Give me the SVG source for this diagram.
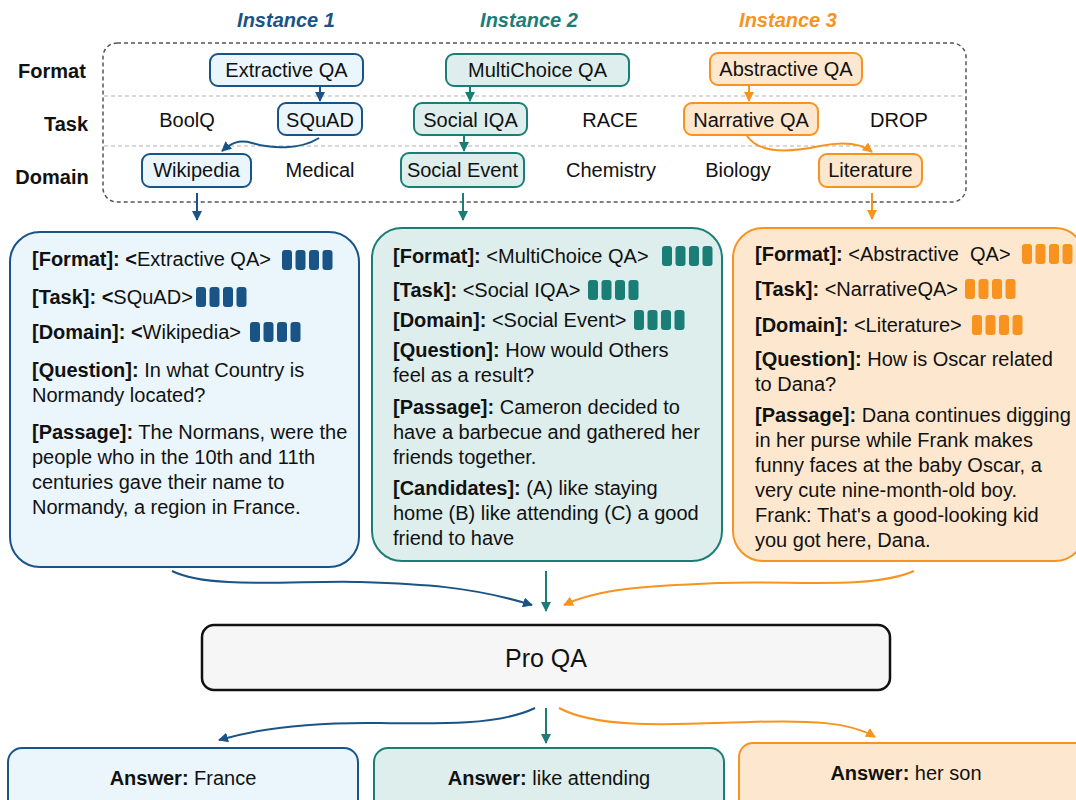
<svg xmlns="http://www.w3.org/2000/svg" width="1076" height="800" viewBox="0 0 1076 800">
<defs>
<style>
text{font-family:"Liberation Sans",Arial,Helvetica,sans-serif;font-size:20px;fill:#111}
.b{font-weight:bold}
.hd{font-weight:bold;font-style:italic}
.c{text-anchor:middle}
.nb{fill:#eaf6fc;stroke:#1a5486;stroke-width:2}
.nt{fill:#ddeeed;stroke:#1b7e76;stroke-width:2}
.no{fill:#fde8cf;stroke:#f7931e;stroke-width:2}
.barB{fill:#1a5486}
.barT{fill:#1b7e76}
.barO{fill:#f7931e}
.eb{fill:none;stroke:#1a5486;stroke-width:2}
.et{fill:none;stroke:#1b7e76;stroke-width:2}
.eo{fill:none;stroke:#f7931e;stroke-width:2}
</style>
<marker id="aB" viewBox="0 0 10 10" refX="9" refY="5" markerWidth="5" markerHeight="5" orient="auto"><path d="M0,0 L10,5 L0,10 z" fill="#1a5486"/></marker>
<marker id="aT" viewBox="0 0 10 10" refX="9" refY="5" markerWidth="5" markerHeight="5" orient="auto"><path d="M0,0 L10,5 L0,10 z" fill="#1b7e76"/></marker>
<marker id="aO" viewBox="0 0 10 10" refX="9" refY="5" markerWidth="5" markerHeight="5" orient="auto"><path d="M0,0 L10,5 L0,10 z" fill="#f7931e"/></marker>
<g id="bars">
<rect x="0" y="0" width="10" height="20" rx="3"/>
<rect x="13.5" y="0" width="10" height="20" rx="3"/>
<rect x="27" y="0" width="10" height="20" rx="3"/>
<rect x="40.5" y="0" width="10" height="20" rx="3"/>
</g>
</defs>
<rect width="1076" height="800" fill="#fff"/>

<!-- headers -->
<g id="headers">
<text class="hd c" x="286" y="27" style="fill:#1a5486">Instance 1</text>
<text class="hd c" x="529" y="27" style="fill:#1b7e76">Instance 2</text>
<text class="hd c" x="788" y="27" style="fill:#f7931e">Instance 3</text>
<text class="b c" x="52" y="78">Format</text>
<text class="b c" x="66" y="131">Task</text>
<text class="b c" x="52" y="184">Domain</text>
</g>

<!-- hierarchy frame -->
<g id="frame">
<rect x="103" y="43" width="863" height="159" rx="14" fill="none" stroke="#555" stroke-width="1.5" stroke-dasharray="4 3"/>
<line x1="104" y1="96" x2="965" y2="96" stroke="#ccc" stroke-width="1.5" stroke-dasharray="4 3"/>
<line x1="104" y1="146" x2="965" y2="146" stroke="#ccc" stroke-width="1.5" stroke-dasharray="4 3"/>
</g>

<g id="n-extractive"><rect class="nb" x="210" y="54" width="153" height="32" rx="8"/><text class="c" x="286.5" y="77">Extractive QA</text></g>
<g id="n-multichoice"><rect class="nt" x="446" y="54" width="183" height="32" rx="8"/><text class="c" x="537.5" y="77">MultiChoice QA</text></g>
<g id="n-abstractive"><rect class="no" x="710" y="53" width="152" height="32" rx="8"/><text class="c" x="786" y="76">Abstractive QA</text></g>

<g id="n-boolq"><text class="c" x="187" y="127">BoolQ</text></g>
<g id="n-squad"><rect class="nb" x="278" y="103" width="84" height="32" rx="8"/><text class="c" x="320" y="127">SQuAD</text></g>
<g id="n-socialiqa"><rect class="nt" x="414" y="103" width="113" height="32" rx="8"/><text class="c" x="470.5" y="127">Social IQA</text></g>
<g id="n-race"><text class="c" x="610" y="127">RACE</text></g>
<g id="n-narrative"><rect class="no" x="684" y="103" width="134" height="32" rx="8"/><text class="c" x="751" y="127">Narrative QA</text></g>
<g id="n-drop"><text class="c" x="899" y="127">DROP</text></g>

<g id="n-wikipedia"><rect class="nb" x="142" y="154" width="109" height="33" rx="8"/><text class="c" x="196.5" y="177">Wikipedia</text></g>
<g id="n-medical"><text class="c" x="320" y="177">Medical</text></g>
<g id="n-socialevent"><rect class="nt" x="401" y="153" width="123" height="34" rx="8"/><text class="c" x="462.5" y="177">Social Event</text></g>
<g id="n-chemistry"><text class="c" x="611" y="177">Chemistry</text></g>
<g id="n-biology"><text class="c" x="738" y="177">Biology</text></g>
<g id="n-literature"><rect class="no" x="819" y="154" width="103" height="33" rx="8"/><text class="c" x="870.5" y="177">Literature</text></g>

<!-- instance cards -->
<g id="card1">
<rect class="nb" x="10" y="232" width="349" height="335" rx="30"/>
<text x="32" y="266"><tspan class="b">[Format]: &lt;</tspan>Extractive QA&gt;</text>
<use href="#bars" x="282" y="250" class="barB"/>
<text x="32" y="304"><tspan class="b">[Task]: &lt;</tspan>SQuAD&gt;</text>
<use href="#bars" x="196" y="287" class="barB"/>
<text x="32" y="339"><tspan class="b">[Domain]: &lt;</tspan>Wikipedia&gt;</text>
<use href="#bars" x="250" y="322" class="barB"/>
<text x="32" y="377"><tspan class="b">[Question]:</tspan> In what Country is</text>
<text x="32" y="402">Normandy located?</text>
<text x="32" y="439"><tspan class="b">[Passage]:</tspan> The Normans, were the</text>
<text x="32" y="464">people who in the 10th and 11th</text>
<text x="32" y="489">centuries gave their name to</text>
<text x="32" y="514">Normandy, a region in France.</text>
</g>

<g id="card2">
<rect class="nt" x="372" y="228" width="350" height="333" rx="30"/>
<text x="393" y="263"><tspan class="b">[Format]:</tspan> &lt;MultiChoice QA&gt;</text>
<use href="#bars" x="662" y="246" class="barT"/>
<text x="393" y="297"><tspan class="b">[Task]:</tspan> &lt;Social IQA&gt;</text>
<use href="#bars" x="588" y="280" class="barT"/>
<text x="393" y="327"><tspan class="b">[Domain]:</tspan> &lt;Social Event&gt;</text>
<use href="#bars" x="634" y="310" class="barT"/>
<text x="393" y="357"><tspan class="b">[Question]:</tspan> How would Others</text>
<text x="393" y="382">feel as a result?</text>
<text x="393" y="414"><tspan class="b">[Passage]:</tspan> Cameron decided to</text>
<text x="393" y="439">have a barbecue and gathered her</text>
<text x="393" y="464">friends together.</text>
<text x="393" y="495"><tspan class="b">[Candidates]:</tspan> (A) like staying</text>
<text x="393" y="520">home (B) like attending (C) a good</text>
<text x="393" y="545">friend to have</text>
</g>

<g id="card3">
<rect class="no" x="733" y="228" width="352" height="333" rx="30"/>
<text x="755" y="261"><tspan class="b">[Format]:</tspan> &lt;Abstractive&#160; QA&gt;</text>
<use href="#bars" x="1022" y="244" class="barO"/>
<text x="755" y="296"><tspan class="b">[Task]:</tspan> &lt;NarrativeQA&gt;</text>
<use href="#bars" x="965" y="279" class="barO"/>
<text x="755" y="332"><tspan class="b">[Domain]:</tspan> &lt;Literature&gt;</text>
<use href="#bars" x="972" y="315" class="barO"/>
<text x="755" y="366"><tspan class="b">[Question]:</tspan> How is Oscar related</text>
<text x="755" y="391">to Dana?</text>
<text x="755" y="422"><tspan class="b">[Passage]:</tspan> Dana continues digging</text>
<text x="755" y="447">in her purse while Frank makes</text>
<text x="755" y="472">funny faces at the baby Oscar, a</text>
<text x="755" y="497">very cute nine-month-old boy.</text>
<text x="755" y="522">Frank: That's a good-looking kid</text>
<text x="755" y="547">you got here, Dana.</text>
</g>

<g id="proqa">
<rect x="202" y="625" width="688" height="65" rx="12" fill="#f6f6f6" stroke="#111" stroke-width="2.5"/>
<text class="c" x="546" y="667" style="font-size:25px">Pro QA</text>
</g>

<g id="ans1"><rect class="nb" x="8" y="748" width="350" height="70" rx="14"/><text class="c" x="183" y="785"><tspan class="b">Answer:</tspan> France</text></g>
<g id="ans2"><rect class="nt" x="374" y="748" width="350" height="70" rx="14"/><text class="c" x="549" y="785"><tspan class="b">Answer:</tspan> like attending</text></g>
<g id="ans3"><rect class="no" x="739" y="743" width="350" height="75" rx="14"/><text class="c" x="906" y="780"><tspan class="b">Answer:</tspan> her son</text></g>

<!-- connectors -->
<g id="connectors">
<path class="eb" d="M320,86 V101" marker-end="url(#aB)"/>
<path class="et" d="M470,86 V101" marker-end="url(#aT)"/>
<path class="eo" d="M749,86 V101" marker-end="url(#aO)"/>
<path class="et" d="M464,135 V151" marker-end="url(#aT)"/>
<path class="eb" d="M319,138 C300,150 272,149 252,143 C238,139 230,144 222,151" marker-end="url(#aB)"/>
<path class="eo" d="M747,136 C760,155 792,152 820,146 C845,141 862,144 872,152" marker-end="url(#aO)"/>
<path class="eb" d="M197,193 V220" marker-end="url(#aB)"/>
<path class="et" d="M463,193 V220" marker-end="url(#aT)"/>
<path class="eo" d="M872,193 V219" marker-end="url(#aO)"/>
<path class="eb" d="M172,571 C210,590 300,580 360,582 C420,584 470,586 532,605" marker-end="url(#aB)"/>
<path class="et" d="M546,571 V611" marker-end="url(#aT)"/>
<path class="eo" d="M914,571 C870,590 790,580 720,583 C650,586 600,588 564,605" marker-end="url(#aO)"/>
<path class="eb" d="M535,708 C500,725 440,724 380,723 C310,722 260,728 219,740" marker-end="url(#aB)"/>
<path class="et" d="M546,708 V743" marker-end="url(#aT)"/>
<path class="eo" d="M559,708 C600,730 680,724 750,722 C810,720 850,722 875,737" marker-end="url(#aO)"/>
</g>
</svg>
